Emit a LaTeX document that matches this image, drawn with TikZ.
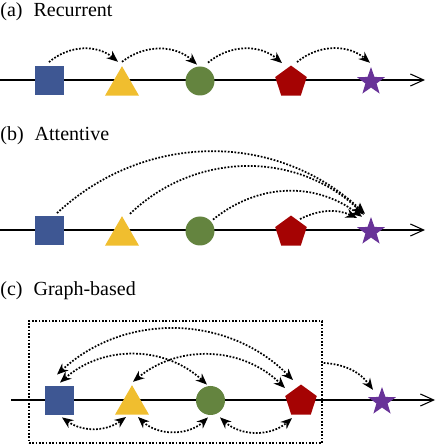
\documentclass[tikz,border=0pt]{standalone}
\usepackage{fontspec}
\setmainfont{Liberation Serif}
\newfontfamily\lblfont{Liberation Serif}
\usetikzlibrary{arrows.meta,shapes.geometric,positioning}

\definecolor{sqblue}{HTML}{3E5793}
\definecolor{triyellow}{HTML}{F0BE2F}
\definecolor{cirgreen}{HTML}{64843F}
\definecolor{pentred}{HTML}{A50303}
\definecolor{starpurple}{HTML}{683398}

\begin{document}
\begin{tikzpicture}[x=0.75pt,y=0.75pt,>={Stealth[length=8.5pt,width=7pt]},
                    semithick]
  \tikzstyle{every node}=[inner sep=0pt]
  \tikzstyle{lbl}=[anchor=base west,font=\lblfont\fontsize{15}{18}\selectfont]
  \tikzstyle{axis}=[-{Straight Barb[length=10pt,width=9pt]},line width=0.8pt]
  \tikzstyle{link}=[->,dash pattern=on 1.3pt off 1.2pt,line width=1.3pt]
  \tikzstyle{both}=[<->,dash pattern=on 1.3pt off 1.2pt,line width=1.3pt]
  \tikzstyle{sq}=[rectangle,fill=sqblue,minimum size=21.75pt]
  \tikzstyle{tri}=[regular polygon,regular polygon sides=3,fill=triyellow,
                   minimum size=29.4pt,anchor=south]
  \tikzstyle{cir}=[circle,fill=cirgreen,minimum size=21.75pt]
  \tikzstyle{pent}=[regular polygon,regular polygon sides=5,fill=pentred,
                    minimum size=24.9pt,anchor=south]
  \tikzstyle{st}=[star,star points=5,star point ratio=2.5,fill=starpurple,
                  minimum size=22pt]

  \useasboundingbox (0,0) rectangle (436,444);

  % (a) recurrent
  \node[lbl] (labA) at (0,427) {(a)\hspace{.55em}Recurrent};
  \coordinate (axA0) at (0,364);
  \coordinate (axA1) at (425,364);
  \draw[axis] (axA0) -- (axA1);
  \node[sq]   (sqA)   at (49,363)    {};
  \node[tri]  (triA)  at (122,348)   {};
  \node[cir]  (cirA)  at (200,363)   {};
  \node[pent] (pentA) at (291,348)   {};
  \node[st]   (starA) at (371,362.3) {};

  \path[link] ([shift={(0,4)}]sqA.north)     edge[bend left=40] ([shift={(-4,3.6)}]triA.north)
              ([shift={(0,3.6)}]triA.north)  edge[bend left=40] ([shift={(-3,1.5)}]cirA.north)
              ([shift={(8,3.5)}]cirA.north)  edge[bend left=40] ([shift={(-9,2)}]pentA.north)
              ([shift={(6,3)}]pentA.north)   edge[bend left=40] ([shift={(-1,3)}]starA.north);

  % (b) attentive
  \node[lbl] (labB) at (0,303) {(b)\hspace{.55em}Attentive};
  \coordinate (axB0) at (0,214);
  \coordinate (axB1) at (425,214);
  \draw[axis] (axB0) -- (axB1);
  \node[sq]   (sqB)   at (49,213)    {};
  \node[tri]  (triB)  at (122,198)   {};
  \node[cir]  (cirB)  at (200,213)   {};
  \node[pent] (pentB) at (291,198)   {};
  \node[st]   (starB) at (371,212.3) {};

  \path[link] ([shift={(8,3)}]sqB.north)      edge[bend left=43] ([shift={(-6,2)}]starB.north)
              ([shift={(8,1.6)}]triB.north)   edge[bend left=44] ([shift={(-7,1)}]starB.north)
              ([shift={(13,-3.5)}]cirB.north) edge[bend left=38] ([shift={(-9,-1)}]starB.north)
              ([shift={(9,-4)}]pentB.north)   edge[bend left=25] ([shift={(-14,-2)}]starB.north);

  % (c) graph-based
  \node[lbl] (labC) at (0,148) {(c)\hspace{.55em}Graph-based};
  \coordinate (axC0) at (11,44);
  \coordinate (axC1) at (435,44);
  \draw[axis] (axC0) -- (axC1);
  \node[draw,dash pattern=on 1.3pt off 1.2pt,line width=1.1pt,
        minimum width=219.75pt,minimum height=91.5pt] (graphbox) at (175.5,62) {};
  \node[sq]   (sqC)   at (59.5,43.5)  {};
  \node[tri]  (triC)  at (132,29)     {};
  \node[cir]  (cirC)  at (210.5,43.5) {};
  \node[pent] (pentC) at (301,29)     {};
  \node[st]   (starC) at (382,42.3)   {};

  \path[both] ([shift={(-2.5,11)}]sqC.north) edge[bend left=44] ([shift={(-8,4)}]pentC.north)
              ([shift={(0.5,3)}]sqC.north)   edge[bend left=42] ([shift={(-3.5,1)}]cirC.north)
              ([shift={(1,2.6)}]triC.north)  edge[bend left=42] ([shift={(-16,-4)}]pentC.north)
              ([shift={(2.5,-2)}]sqC.south)  edge[bend right=36] ([shift={(-6,-2)}]triC.south)
              ([shift={(6,-2)}]triC.south)   edge[bend right=43] ([shift={(-2.5,-2)}]cirC.south)
              ([shift={(9.5,-2)}]cirC.south) edge[bend right=42] ([shift={(-9,-3)}]pentC.south);
  \path[link] ([shift={(1,19)}]graphbox.east) edge[bend left=25] ([shift={(-9,-4)}]starC.north);
\end{tikzpicture}
\end{document}
